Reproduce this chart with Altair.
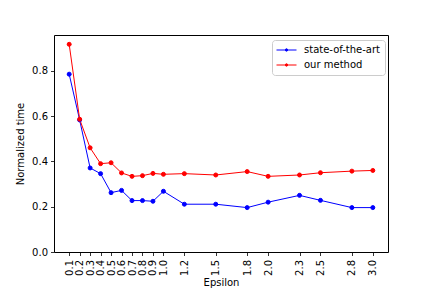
import altair as alt
import pandas as pd

eps = [0.1, 0.2, 0.3, 0.4, 0.5, 0.6, 0.7, 0.8, 0.9, 1.0, 1.2, 1.5, 1.8, 2.0, 2.3, 2.5, 2.8, 3.0]
sota = [0.785, 0.583, 0.371, 0.346, 0.262, 0.272, 0.227, 0.227, 0.224, 0.268, 0.211, 0.211, 0.196, 0.220, 0.250, 0.228, 0.196, 0.196]
ours = [0.917, 0.586, 0.460, 0.390, 0.394, 0.349, 0.334, 0.337, 0.347, 0.343, 0.346, 0.340, 0.355, 0.334, 0.340, 0.350, 0.357, 0.360]
series_names = ["state-of-the-art", "our method"]
series_colors = ["#0000ff", "#ff0000"]
y_ticks = [0.0, 0.2, 0.4, 0.6, 0.8]

rows = []
for name, vals in zip(series_names, [sota, ours]):
    for e, v in zip(eps, vals):
        rows.append({"Epsilon": e, "value": v, "series": name})
df = pd.DataFrame(rows)

FONT = "DejaVu Sans"

x_enc = alt.X("Epsilon:Q",
              scale=alt.Scale(domain=[-0.045, 3.145], nice=False, zero=False),
              axis=alt.Axis(values=eps, format=".1f", labelAngle=270, title="Epsilon",
                            labelPadding=4, titlePadding=2))
y_enc = alt.Y("value:Q",
              scale=alt.Scale(domain=[0, 0.958], nice=False),
              axis=alt.Axis(values=y_ticks, format=".1f", title="Normalized time",
                            labelPadding=3, titlePadding=6))

legend = alt.Legend(
    title=None, orient="none", legendX=218, legendY=5,
    symbolType="M-1,0L1,0M0.12,0A0.12,0.12 0 1 1 -0.12,0A0.12,0.12 0 1 1 0.12,0",
    symbolSize=400, symbolStrokeWidth=1, labelFontSize=10, labelFont=FONT,
    labelColor="black", labelOffset=7, padding=4, rowPadding=3, clipHeight=12,
    fillColor="white", strokeColor="#cccccc", cornerRadius=3,
    symbolOpacity=1,
)

cscale = alt.Scale(domain=series_names, range=series_colors)

line = alt.Chart(df).mark_line(strokeWidth=1).encode(
    x=x_enc, y=y_enc,
    stroke=alt.Stroke("series:N", scale=cscale, legend=legend),
)

pts = alt.Chart(df).mark_point(filled=True, size=16, opacity=1, strokeWidth=1).encode(
    x=x_enc, y=y_enc,
    fill=alt.Fill("series:N", scale=cscale, legend=legend),
    stroke=alt.Stroke("series:N", scale=cscale, legend=legend),
)

chart = (line + pts).properties(
    width=334, height=217,
    autosize=alt.AutoSizeParams(type="none"),
    padding={"left": 46, "top": 27, "right": 36, "bottom": 36},
).configure_view(stroke="black", strokeWidth=1).configure_axis(
    grid=False, domain=False, tickColor="black", tickSize=3.5, tickWidth=0.8,
    labelColor="black", labelFont=FONT, labelFontSize=10,
    titleColor="black", titleFont=FONT, titleFontSize=10, titleFontWeight="normal",
)

chart.save("out.html", embed_options={"renderer": "svg", "actions": False})
